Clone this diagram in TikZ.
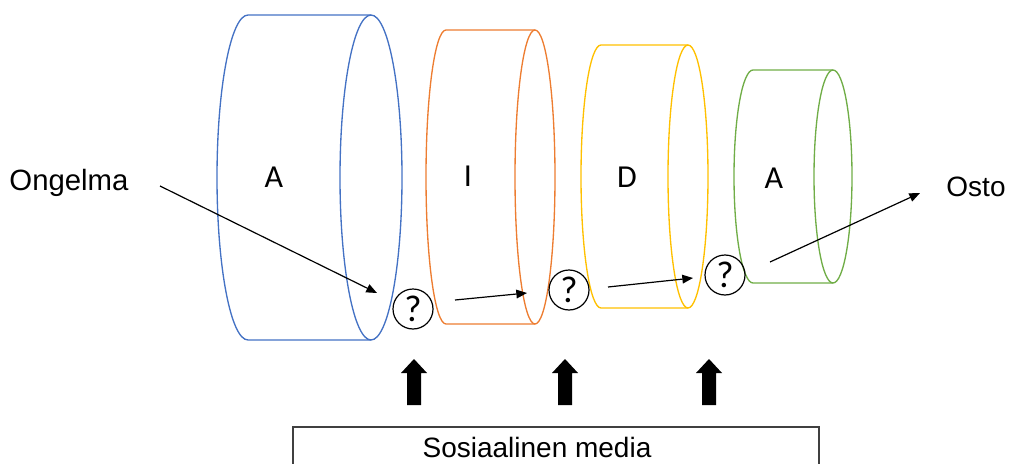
\documentclass[tikz,border=0pt]{standalone}
\usepackage{fontspec}
\setmainfont{Liberation Sans}
\newfontfamily\calib{Carlito}
\usetikzlibrary{arrows.meta}
\definecolor{cblue}{HTML}{4472C4}
\definecolor{corange}{HTML}{ED7D31}
\definecolor{cyellow}{HTML}{FFC000}
\definecolor{cgreen}{HTML}{70AD47}
\definecolor{boxgray}{HTML}{404040}
\tikzset{
  cyl/.style={line width=1pt},
  letter/.style={font=\calib\fontsize{24}{28}\selectfont, inner sep=0pt},
  lbl/.style={font=\fontsize{21}{25}\selectfont, inner sep=0pt, anchor=base},
  qcirc/.style={circle, draw=black, line width=0.9pt, minimum size=30pt, inner sep=0pt, font=\calib\fontsize{28}{30}\selectfont},
  flow/.style={line width=0.9pt, -{Triangle[length=8pt,width=6.5pt]}},
}
\newcommand{\cylshape}[7]{% color, lx, rx, w, top, bottom, h
  \draw[cyl, draw=#1] (#3,#5) -- (#2,#5) arc[start angle=270, end angle=90, x radius=#4, y radius=#7] -- (#3,#6);
  \draw[cyl, draw=#1] (#3,#5) arc[start angle=270, end angle=-90, x radius=#4, y radius=#7];
}
\newcommand{\upblock}[1]{%
  \fill[black] (#1-7,405) -- (#1-7,373) -- (#1-13,373) -- (#1,359) -- (#1+13,373) -- (#1+7,373) -- (#1+7,405) -- cycle;
}
\begin{document}
\begin{tikzpicture}[x=0.75pt, y=-0.75pt]
\useasboundingbox (0,0) rectangle (1011,464);
% cylinders
\cylshape{cblue}{248}{371}{31}{15}{340}{162.5}
\cylshape{corange}{446}{535}{20}{30}{324}{147}
\cylshape{cyellow}{601}{688}{20}{45}{308}{131.5}
\cylshape{cgreen}{753}{833}{19}{70}{283}{106.5}
% letters
\node[letter] (la1) at (274,177) {A};
\node[letter] (li) at (468,176) {I};
\node[letter] (ld) at (627,177) {D};
\node[letter] (la2) at (774,178) {A};
% labels
\node[lbl, font=\fontsize{22}{26}\selectfont] (ong) at (69,190) {Ongelma};
\node[lbl] (osto) at (976,196) {Osto};
% question circles
\node[qcirc] (q1) at (413,309) {?};
\node[qcirc] (q2) at (569,290) {?};
\node[qcirc] (q3) at (725,275) {?};
% arrow coordinates
\coordinate (a1s) at (160,186);
\coordinate (a1e) at (377,293);
\coordinate (a2s) at (455,300);
\coordinate (a2e) at (527,293);
\coordinate (a3s) at (608,287);
\coordinate (a3e) at (693,278);
\coordinate (a4s) at (770,262);
\coordinate (a4e) at (920,193);
\draw[flow] (a1s) -- (a1e);
\draw[flow] (a2s) -- (a2e);
\draw[flow] (a3s) -- (a3e);
\draw[flow] (a4s) -- (a4e);
% big up arrows
\upblock{414}
\upblock{565}
\upblock{709}
% box
\draw[draw=boxgray, line width=1.4pt] (293,470) -- (293,427) -- (819,427) -- (819,470);
\node[lbl] (sm) at (537,457) {Sosiaalinen media};
\end{tikzpicture}
\end{document}
